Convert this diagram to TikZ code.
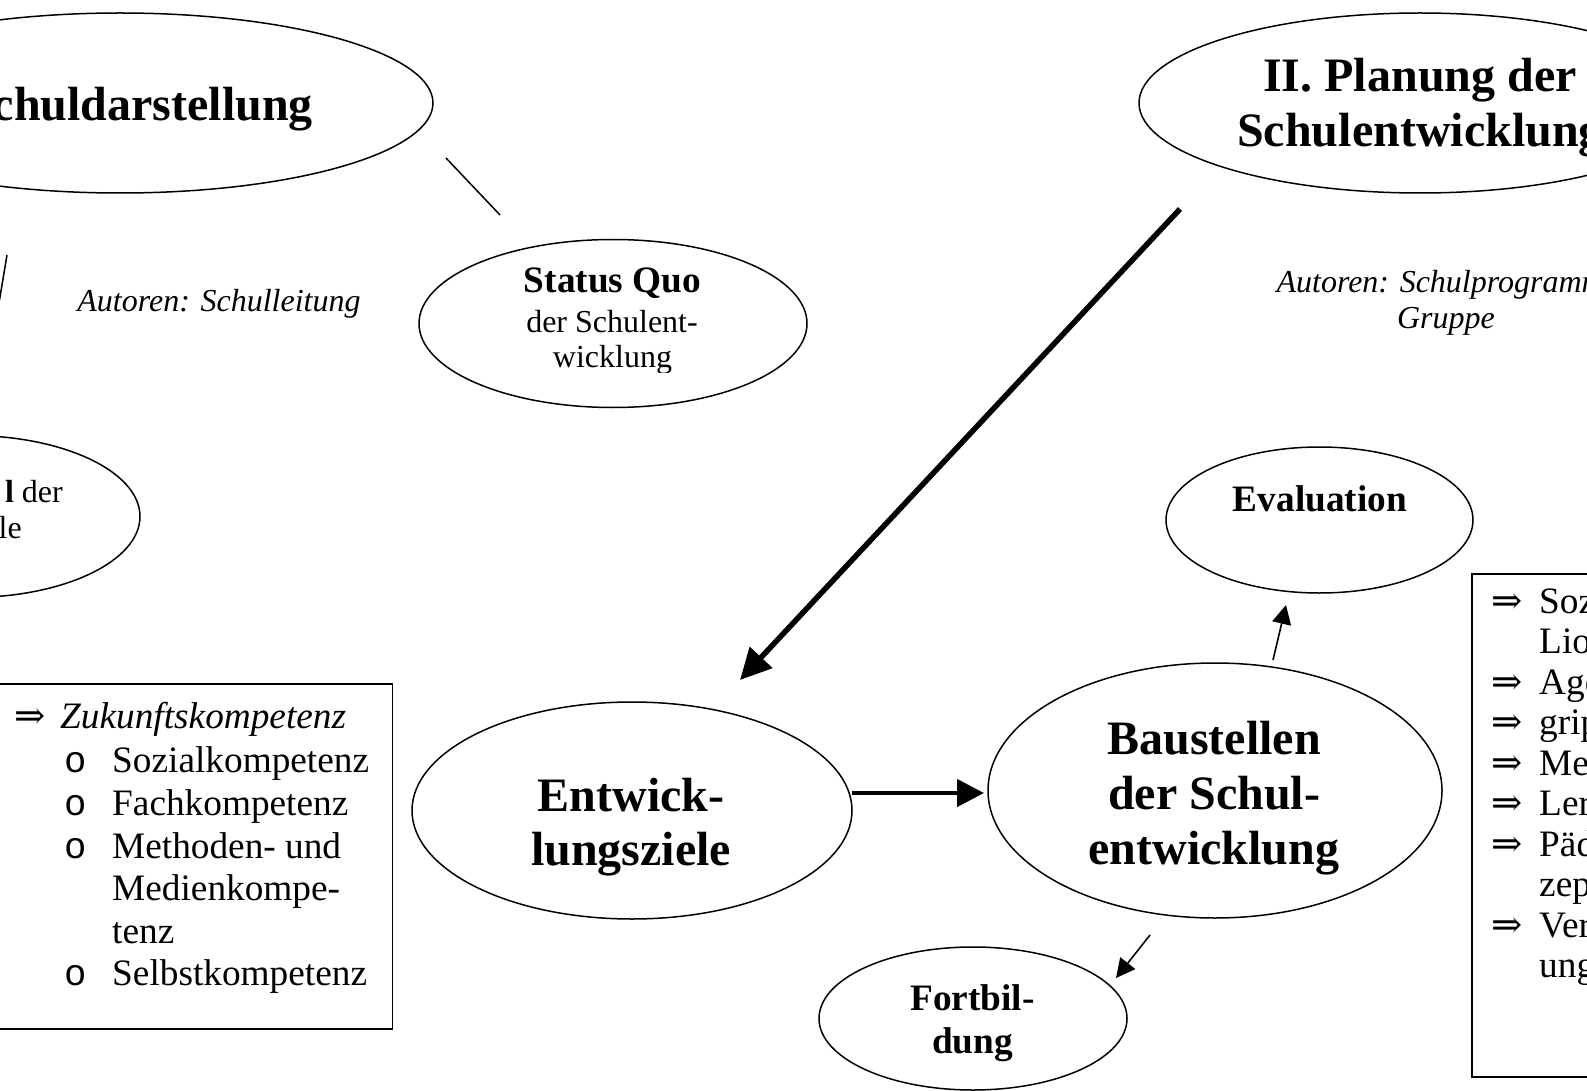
\documentclass[tikz,border=0pt]{standalone}
\usepackage{fontspec}
\setmainfont{Liberation Serif}
\newfontfamily\monofnt{Liberation Mono}
\newfontfamily\symfnt{DejaVu Serif}
\usetikzlibrary{shapes.geometric,arrows.meta}
\newcommand{\dbl}{{\symfnt ⇒}}
\begin{document}
\begin{tikzpicture}[x=1pt,y=-1pt,
  ell/.style={draw, ellipse, line width=1.5pt, inner sep=0pt},
  boxst/.style={draw, rectangle, line width=1.5pt, inner sep=0pt},
  txt/.style={inner sep=0pt, anchor=base},
  reg/.style={txt, font=\fontsize{32}{36}\selectfont},
  regit/.style={txt, font=\fontsize{32}{36}\selectfont\itshape},
  mid/.style={txt, font=\fontsize{37.3}{43}\selectfont},
  midbf/.style={txt, font=\fontsize{37.3}{43}\selectfont\bfseries},
  bigbf/.style={txt, font=\fontsize{48}{55}\selectfont\bfseries},
  thin/.style={line width=1.5pt},
  thinarrow/.style={line width=1.6pt, -{Triangle[length=19pt,width=19pt]}},
  thickarrow/.style={line width=5.5pt, -{Triangle[length=31pt,width=30pt]}},
  medarrow/.style={line width=4.5pt, -{Triangle[length=27pt,width=27pt]}}
]
\useasboundingbox (0,0) rectangle (1587,1091);
\clip (0,0) rectangle (1587,1091);

% ellipses
\node[ell, minimum width=626pt, minimum height=180pt] (schul) at (120,103) {};
\node[ell, minimum width=388pt, minimum height=168pt] (status) at (613,323.5) {};
\node[ell, minimum width=340pt, minimum height=162pt] (leit) at (-30,516.5) {};
\node[ell, minimum width=562pt, minimum height=180pt] (plan) at (1420,103) {};
\node[ell, minimum width=440pt, minimum height=217pt] (ziele) at (632,810.5) {};
\node[ell, minimum width=454pt, minimum height=255pt] (bau) at (1215,790.5) {};
\node[ell, minimum width=307pt, minimum height=146pt] (eval) at (1319.5,520) {};
\node[ell, minimum width=308pt, minimum height=143pt] (fort) at (973,1018.5) {};

% boxes
\node[boxst, minimum width=413pt, minimum height=345pt, anchor=north east] (lbox) at (393,683) {};
\node[boxst, minimum width=200pt, minimum height=503pt, anchor=north west] (rbox) at (1471,573) {};

% texts in ellipses
\node[bigbf, anchor=base east] (tschul) at (313,121) {chuldarstellung};
\node[midbf] (tsq1) at (612.5,293) {Status Quo};
\node[reg] (tsq2) at (612,332) {der Schulent-};
\begin{scope}
\clip (500,330) rectangle (720,372);
\node[reg] (tsq3) at (612.5,367) {wicklung};
\end{scope}
\node[reg, anchor=base east] (tleit1) at (63,502) {\textbf{l} der};
\node[reg, anchor=base east] (tleit2) at (22,538) {le};
\node[bigbf] (tplan1) at (1420,92) {II. Planung der};
\node[bigbf] (tplan2) at (1420,147) {Schulentwicklung};
\node[bigbf] (tziel1) at (631,811) {Entwick-};
\node[bigbf] (tziel2) at (631,865) {lungsziele};
\node[bigbf] (tbau1) at (1214,754) {Baustellen};
\node[bigbf] (tbau2) at (1214,809) {der Schul-};
\node[bigbf] (tbau3) at (1214,864) {entwicklung};
\node[midbf] (teval) at (1320,511) {Evaluation};
\node[midbf] (tfort1) at (972.5,1010) {Fortbil-};
\node[midbf] (tfort2) at (972.5,1053) {dung};

% authors
\node[regit] (aut1) at (219,312) {Autoren: Schulleitung};
\node[regit] (aut2a) at (1446,293) {Autoren: Schulprogramm-};
\node[regit] (aut2b) at (1446,328) {Gruppe};

% left box list
\node[mid, anchor=base west] (la0) at (14,728) {\dbl};
\node[mid, anchor=base west] (lt0) at (60,728) {\itshape Zukunftskompetenz};
\node[mid, anchor=base west] (lb1) at (64,772) {\monofnt o};
\node[mid, anchor=base west] (lt1) at (112,772) {Sozialkompetenz};
\node[mid, anchor=base west] (lb2) at (64,815) {\monofnt o};
\node[mid, anchor=base west] (lt2) at (112,815) {Fachkompetenz};
\node[mid, anchor=base west] (lb3) at (64,858) {\monofnt o};
\node[mid, anchor=base west] (lt3) at (112,858) {Methoden- und};
\node[mid, anchor=base west] (lt4) at (112,900) {Medienkompe-};
\node[mid, anchor=base west] (lt5) at (112,943) {tenz};
\node[mid, anchor=base west] (lb6) at (64,985) {\monofnt o};
\node[mid, anchor=base west] (lt6) at (112,985) {Selbstkompetenz};

% right box list
\node[mid, anchor=base west] (ra0) at (1491,613) {\dbl};
\node[mid, anchor=base west] (rt0) at (1539,613) {Soz};
\node[mid, anchor=base west] (rt1) at (1539,653.5) {Lio};
\node[mid, anchor=base west] (ra2) at (1491,694) {\dbl};
\node[mid, anchor=base west] (rt2) at (1539,694) {Age};
\node[mid, anchor=base west] (ra3) at (1491,734.5) {\dbl};
\node[mid, anchor=base west] (rt3) at (1539,734.5) {grip};
\node[mid, anchor=base west] (ra4) at (1491,775) {\dbl};
\node[mid, anchor=base west] (rt4) at (1539,775) {Med};
\node[mid, anchor=base west] (ra5) at (1491,815.5) {\dbl};
\node[mid, anchor=base west] (rt5) at (1539,815.5) {Ler};
\node[mid, anchor=base west] (ra6) at (1491,856) {\dbl};
\node[mid, anchor=base west] (rt6) at (1539,856) {Päd};
\node[mid, anchor=base west] (rt7) at (1539,896.5) {zep};
\node[mid, anchor=base west] (ra8) at (1491,937) {\dbl};
\node[mid, anchor=base west] (rt8) at (1539,937) {Ver};
\node[mid, anchor=base west] (rt9) at (1539,977.5) {ung};

% connectors
\coordinate (s1) at (446,158);
\coordinate (s2) at (500,215);
\draw[thin] (s1) -- (s2);
\coordinate (l1) at (7,255);
\coordinate (l2) at (-0.5,300);
\draw[thin] (l1) -- (l2);
\coordinate (p1) at (1180,209);
\coordinate (p2) at (740,680);
\draw[thickarrow] (p1) -- (p2);
\coordinate (h1) at (852,793);
\coordinate (h2) at (984,793);
\draw[medarrow] (h1) -- (h2);
\coordinate (e1) at (1273,660);
\coordinate (e2) at (1286,605);
\draw[thinarrow] (e1) -- (e2);
\coordinate (f1) at (1150,935);
\coordinate (f2) at (1116,978);
\draw[thinarrow] (f1) -- (f2);
\end{tikzpicture}
\end{document}
